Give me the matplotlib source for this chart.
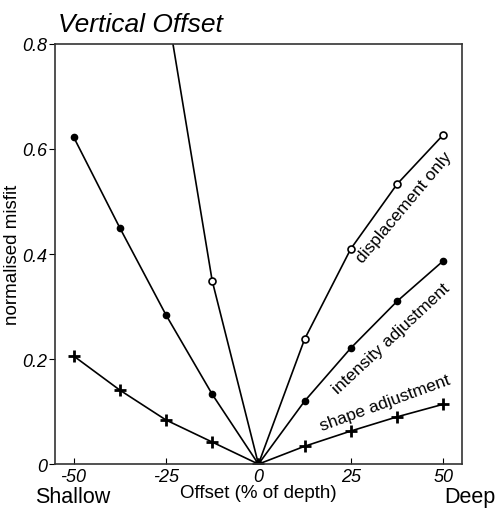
import numpy as np
import matplotlib.pyplot as plt

plt.rcParams['font.family'] = ['Liberation Sans', 'DejaVu Sans']

# offsets in % of depth (negative = shallow, positive = deep)
offset = [-50, -37.5, -25, -12.5, 0, 12.5, 25, 37.5, 50]
off_disp = [-25, -12.5, 0, 12.5, 25, 37.5, 50]

# normalised misfit for the three fitting approaches
misfit_disp = [0.88, 0.349, 0.0, 0.238, 0.41, 0.533, 0.627]
misfit_int = [0.623, 0.45, 0.284, 0.133, 0.0, 0.12, 0.221, 0.31, 0.387]
misfit_shape = [0.206, 0.141, 0.084, 0.042, 0.0, 0.034, 0.063, 0.09, 0.114]

xticks = [-50, -25, 0, 25, 50]
yticks = [0, 0.2, 0.4, 0.6, 0.8]
ytick_labels = ["0", "0.2", "0.4", "0.6", "0.8"]

fig = plt.figure(figsize=(4.96, 5.10), dpi=100)
ax = fig.add_axes([0.111, 0.088, 0.82, 0.824])

ax.plot(off_disp, misfit_disp, color="black", lw=1.2, marker="o",
        mfc="white", mec="black", ms=5, mew=1.2, clip_on=True)
ax.plot(offset, misfit_int, color="black", lw=1.2, marker="o",
        mfc="black", mec="black", ms=4.5)
ax.plot(offset, misfit_shape, color="black", lw=1.2, marker="+",
        mec="black", ms=9, mew=2)

ax.set_xlim(-55, 55)
ax.set_ylim(0, 0.8)
ax.set_xticks(xticks)
ax.set_xticklabels([str(t) for t in xticks], fontstyle="italic", fontsize=13)
ax.set_yticks(yticks)
ax.set_yticklabels(ytick_labels, fontstyle="italic", fontsize=13)
ax.tick_params(axis="x", direction="in", length=4, pad=3)
ax.tick_params(axis="y", direction="out", length=4, pad=2)
for s in ax.spines.values():
    s.set_linewidth(1.2)
    s.set_color("#333333")

ax.set_ylabel("normalised misfit", fontsize=13.5, labelpad=0.5)
ax.set_xlabel("Offset (% of depth)", fontsize=13.5, labelpad=-1)

# curve labels
ax.text(39.5, 0.49, "displacement only", rotation=50, fontsize=12.5,
        ha="center", va="center", rotation_mode="anchor")
ax.text(36.0, 0.24, "intensity adjustment", rotation=43, fontsize=12.5,
        ha="center", va="center", rotation_mode="anchor")
ax.text(34.3, 0.117, "shape adjustment", rotation=20, fontsize=12.5,
        ha="center", va="center", rotation_mode="anchor")

# end labels under the axis
tr = ax.get_xaxis_transform()
ax.text(-50.3, -0.076, "Shallow", transform=tr, fontsize=15.5,
        ha="center", va="center")
ax.text(50.2, -0.076, "Deep", transform=tr, fontsize=15.5,
        ha="left", va="center")

fig.text(0.117, 0.951, "Vertical Offset", fontsize=19, fontstyle="italic",
         ha="left", va="center")

fig.savefig("out.png", dpi=100)
